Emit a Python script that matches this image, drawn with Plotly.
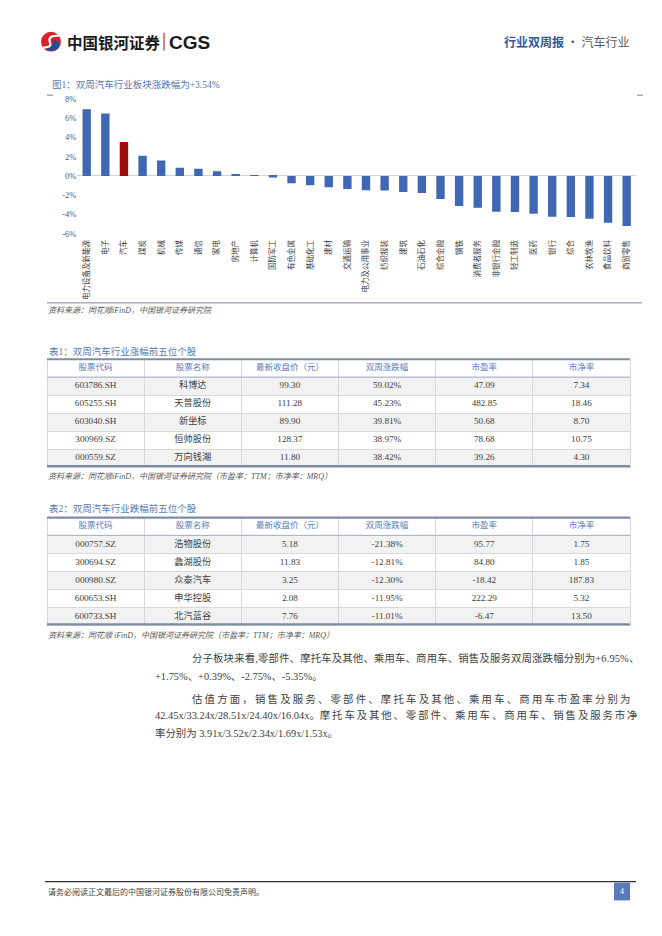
import plotly.graph_objects as go

W, H = 662, 936
OFF = 8  # page body margin of the html page


def px(x):
    return (x - OFF) / W


def py(y):
    return 1 - (y - OFF) / H


SERIF = "Liberation Serif, Noto Sans CJK SC"
CJK = "Noto Sans CJK SC"
TITLE_BLUE = "#5a78b0"
TXT = "#404040"

# ---------------- data ----------------
industries = ["电力设备及新能源", "电子", "汽车", "煤炭", "机械", "传媒", "通信", "家电", "房地产",
              "计算机", "国防军工", "有色金属", "基础化工", "建材", "交通运输", "电力及公用事业",
              "纺织服装", "建筑", "石油石化", "综合金融", "钢铁", "消费者服务", "非银行金融",
              "轻工制造", "医药", "银行", "综合", "农林牧渔", "食品饮料", "商贸零售"]
changes = [6.94, 6.50, 3.54, 2.10, 1.60, 0.85, 0.75, 0.50, 0.10, 0.02, -0.15, -0.76, -0.96,
           -1.17, -1.37, -1.49, -1.52, -1.68, -1.78, -2.40, -3.12, -3.30, -3.72, -3.74, -3.94,
           -4.25, -4.26, -4.45, -4.86, -5.20]
highlight = "汽车"
y_ticks = [-6, -4, -2, 0, 2, 4, 6, 8]

table_headers = ["股票代码", "股票名称", "最新收盘价（元）", "双周涨跌幅", "市盈率", "市净率"]

t1_codes = ["603786.SH", "605255.SH", "603040.SH", "300969.SZ", "000559.SZ"]
t1_names = ["科博达", "天普股份", "新坐标", "恒帅股份", "万向钱潮"]
t1_price = [99.30, 111.28, 89.90, 128.37, 11.80]
t1_chg = [59.02, 45.23, 39.81, 38.97, 38.42]
t1_pe = [47.09, 482.85, 50.68, 78.68, 39.26]
t1_pb = [7.34, 18.46, 8.70, 10.75, 4.30]

t2_codes = ["000757.SZ", "300694.SZ", "000980.SZ", "600653.SH", "600733.SH"]
t2_names = ["浩物股份", "蠡湖股份", "众泰汽车", "申华控股", "北汽蓝谷"]
t2_price = [5.18, 11.83, 3.25, 2.08, 7.76]
t2_chg = [-21.38, -12.81, -12.30, -11.95, -11.01]
t2_pe = [95.77, 84.80, -18.42, 222.29, -6.47]
t2_pb = [1.75, 1.85, 187.83, 5.32, 13.50]


def spaced(text, ls):
    return f"<span style='letter-spacing:{ls}px'>{text}</span>"


body_lines = [
    (spaced("分子板块来看,零部件、摩托车及其他、乘用车、商用车、销售及服务双周涨跌幅分别为+6.95%、", 0.15), 190, 660),
    ("+1.75%、+0.39%、-2.75%、-5.35%。", 153, 679),
    (spaced("估值方面，销售及服务、零部件、摩托车及其他、乘用车、商用车市盈率分别为", 2.2), 190, 701),
    ("42.45x/33.24x/28.51x/24.40x/16.04x。" + spaced("摩托车及其他、零部件、乘用车、商用车、销售及服务市净", 1.9), 153, 718),
    ("率分别为 3.91x/3.52x/2.34x/1.69x/1.53x。", 153, 736),
]

# ---------------- figure ----------------
fig = go.Figure()

bar_colors = ["#a00d0d" if c == highlight else "#4068b2" for c in industries]
fig.add_trace(go.Bar(x=industries, y=changes, marker=dict(color=bar_colors, line=dict(width=0)),
                     showlegend=False, hoverinfo="x+y"))

fig.update_layout(
    width=W, height=H, margin=dict(l=0, r=0, t=0, b=0),
    paper_bgcolor="white", plot_bgcolor="white",
    bargap=0.55,
    xaxis=dict(domain=[px(77.4), px(636)], type="category", showgrid=False, showline=False,
               ticks="", tickangle=-90, ticklabelstandoff=4,
               tickfont=dict(family=CJK, size=7.5, color=TXT)),
    yaxis=dict(domain=[py(231), py(95)], range=[-6, 8], tickvals=y_ticks,
               ticktext=[f"{v}%" for v in y_ticks], showgrid=False, showline=False,
               zeroline=True, zerolinecolor="#cdd3dd", zerolinewidth=1,
               tickfont=dict(family=SERIF, size=8.5, color="#595959"), ticks=""),
)


def fmt(vals, pct=False):
    return [f"{v:.2f}%" if pct else f"{v:.2f}" for v in vals]


row_fills = ["#f2f2f2", "#ffffff", "#f2f2f2", "#ffffff", "#f2f2f2"]
CLEAR = "rgba(0,0,0,0)"


def add_table(cols, top):
    n_rows = len(cols[0])
    # background layer: fills and cell rules only
    fig.add_trace(go.Table(
        domain=dict(x=[px(47), px(630)], y=[py(top + 120), py(top)]),
        columnwidth=[1] * 6,
        header=dict(values=[""] * len(table_headers), height=18, fill_color="white",
                    line=dict(color="#d9d9d9", width=1)),
        cells=dict(values=[[""] * n_rows for _ in cols], height=18, fill_color=[row_fills] * 6,
                   line=dict(color="#d9d9d9", width=1)),
    ))
    # text layer, lifted so the text sits centred in each row
    fig.add_trace(go.Table(
        domain=dict(x=[px(47), px(630)], y=[py(top + 120), py(top - 4)]),
        columnwidth=[1] * 6,
        header=dict(values=table_headers, height=18, fill_color=CLEAR,
                    line=dict(color=CLEAR, width=0),
                    font=dict(family=SERIF, size=8.5, color="#5b7bb8"), align="center"),
        cells=dict(values=cols, height=18, fill_color=CLEAR,
                   line=dict(color=CLEAR, width=0),
                   font=dict(family=SERIF, size=9.2, color=TXT), align="center"),
    ))


add_table([t1_codes, t1_names, fmt(t1_price), fmt(t1_chg, True), fmt(t1_pe), fmt(t1_pb)], 358)
add_table([t2_codes, t2_names, fmt(t2_price), fmt(t2_chg, True), fmt(t2_pe), fmt(t2_pb)], 518)

shapes = []


def hline(x0, x1, y, color, width):
    shapes.append(dict(type="line", xref="paper", yref="paper", x0=px(x0), x1=px(x1),
                       y0=py(y), y1=py(y), line=dict(color=color, width=width), layer="above"))


# chart frame bits
hline(47, 53, 91, "#7f7f7f", 1)
hline(637, 643, 91, "#7f7f7f", 1)
hline(47, 642, 301, "#7d8898", 1)
# table rules
for top in (358, 518):
    hline(47, 630, top, "#7f8ca3", 2.2)
    hline(47, 630, top + 18, "#a7b1c2", 1)
    hline(47, 630, top + 108, "#7f8ca3", 2.2)
# footer
hline(45, 636, 886, "#333333", 1.2)
shapes.append(dict(type="rect", xref="paper", yref="paper", x0=px(614), x1=px(630),
                   y0=py(905), y1=py(887), fillcolor="#5b7bb8", line=dict(width=0)))
# separator in the brand line
shapes.append(dict(type="line", xref="paper", yref="paper", x0=px(164), x1=px(164),
                   y0=py(46), y1=py(28), line=dict(color="#c0272d", width=1.2)))
# logo
cx, cy = 51, 37
shapes.append(dict(type="circle", xref="paper", yref="paper", x0=px(cx - 10), x1=px(cx + 10),
                   y0=py(cy + 10), y1=py(cy - 10), fillcolor="#d9212b", line=dict(width=0)))


def P(x, y):
    return f"{px(x)} {py(y)}"


shapes.append(dict(type="path", xref="paper", yref="paper",
                   path=f"M {P(cx + 3, cy - 2)} Q {P(cx + 11, cy)} {P(cx + 7, cy + 7)} Q {P(cx + 2, cy + 11)} {P(cx - 6, cy + 8)} Q {P(cx + 2, cy + 6)} {P(cx + 3, cy - 2)} Z",
                   fillcolor="#1f4e9c", line=dict(width=0)))
shapes.append(dict(type="path", xref="paper", yref="paper",
                   path=f"M {P(cx + 9, cy - 6)} Q {P(cx - 4, cy - 7)} {P(cx - 1, cy + 1)} Q {P(cx + 1, cy + 6)} {P(cx - 8, cy + 6)}",
                   line=dict(color="white", width=2.2)))

annotations = []


def ann(text, x, y, size, color, family=CJK, xanchor="left", yanchor="middle"):
    annotations.append(dict(text=text, x=px(x), y=py(y), xref="paper", yref="paper",
                            xanchor=xanchor, yanchor=yanchor, showarrow=False,
                            font=dict(family=family, size=size, color=color)))


ann("<b>中国银河证券</b>", 65, 37, 15.5, "#1a1a1a", family=CJK)
ann("<b>CGS</b>", 167, 37.5, 19, "#1a1a1a", family="Liberation Sans")
ann("<b>行业双周报</b> <span style='color:#595959'>· 汽车行业</span>", 631, 37, 12, "#2f5a9e",
    family=CJK, xanchor="right")
ann("图1：双周汽车行业板块涨跌幅为+3.54%", 50, 80, 9.5, TITLE_BLUE, family=SERIF)
ann("<i>资料来源：同花顺iFinD，中国银河证券研究院</i>", 46, 309, 8, "#595959", family=SERIF)
ann("表1：双周汽车行业涨幅前五位个股", 47, 350, 9.5, TITLE_BLUE, family=SERIF)
ann("<i>资料来源：同花顺iFinD，中国银河证券研究院（市盈率：TTM；市净率：MRQ）</i>", 46, 477, 8,
    "#595959", family=SERIF)
ann("表2：双周汽车行业跌幅前五位个股", 47, 509, 9.5, TITLE_BLUE, family=SERIF)
ann("<i>资料来源：同花顺 iFinD，中国银河证券研究院（市盈率：TTM；市净率：MRQ）</i>", 46, 637, 8,
    "#595959", family=SERIF)
for text, x, y in body_lines:
    ann(text, x, y, 10.4, TXT, family=SERIF)
ann("请务必阅读正文最后的中国银河证券股份有限公司免责声明。", 46, 896, 8, "#404040", family=SERIF)
ann("4", 622, 896, 8, "white", family=SERIF, xanchor="center")

fig.update_layout(shapes=shapes, annotations=annotations)

fig.write_html("out.html")
